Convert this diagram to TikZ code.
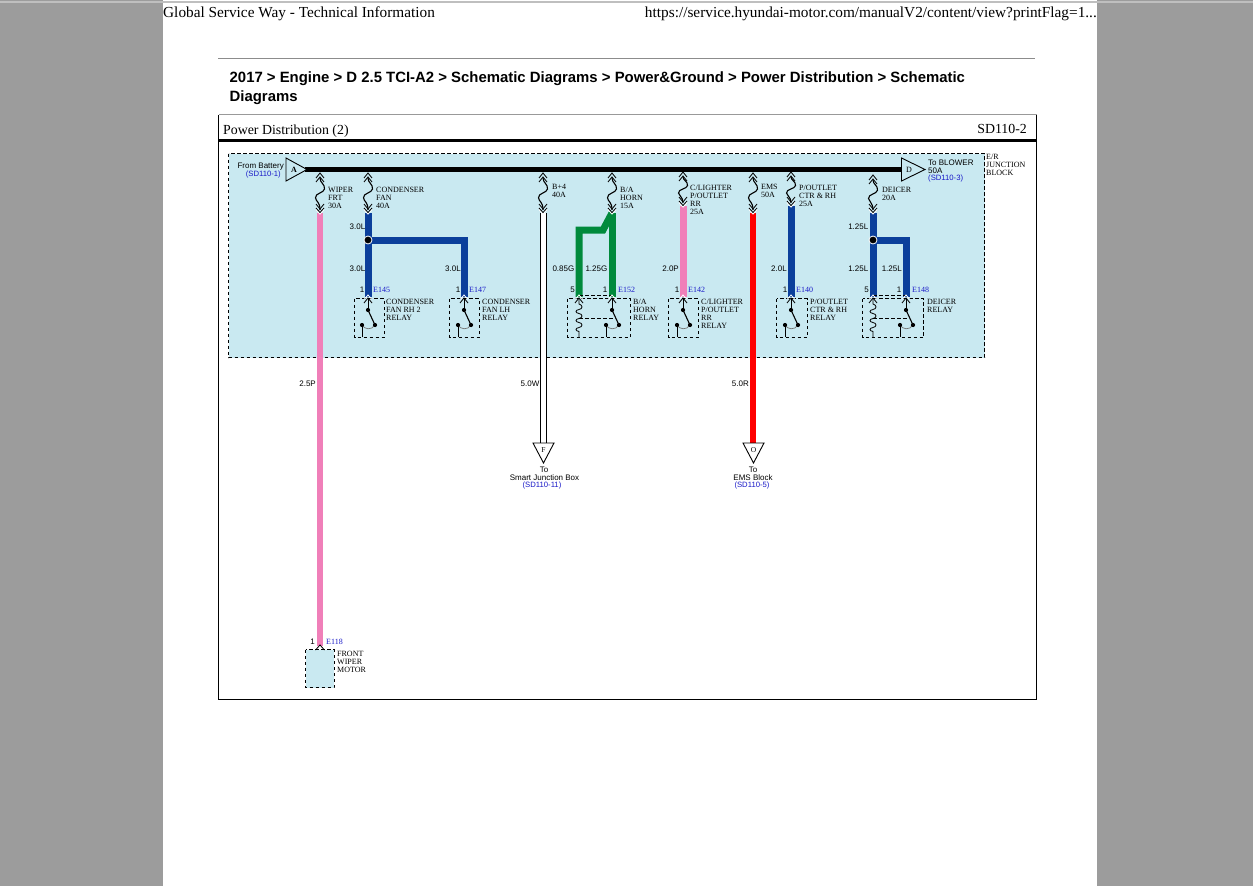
\documentclass[tikz,border=0pt]{standalone}
\usepackage{fontspec}
\setmainfont{Liberation Serif}
\newfontfamily\lsans{Liberation Sans}
\usetikzlibrary{calc}
\definecolor{pagegray}{HTML}{9C9C9C}
\definecolor{jbox}{HTML}{C9E9F1}
\definecolor{wblue}{HTML}{0B3F9B}
\definecolor{wgreen}{HTML}{008A3C}
\definecolor{wpink}{HTML}{F07FB9}
\definecolor{wred}{HTML}{FF0000}
\definecolor{lblue}{HTML}{1A1AC8}
\tikzset{
  x=1pt,y=-1pt,
  wire/.style={line width=#1,line cap=butt,line join=miter},
  dashbox/.style={draw=black,line width=0.9pt,dash pattern=on 3.5pt off 2.5pt},
  srf/.style={inner sep=0pt,font=\fontsize{8}{8}\selectfont,align=left,text=black,anchor=north west,yshift=2.2pt},
  gauge/.style={inner sep=0pt,font=\lsans\fontsize{8}{8}\selectfont,text=black,anchor=east,yshift=-0.6pt},
  pinnum/.style={inner sep=0pt,font=\lsans\fontsize{8}{8}\selectfont,text=black,yshift=-0.4pt},
  pinid/.style={inner sep=0pt,font=\fontsize{8}{8}\selectfont,text=lblue,anchor=west,yshift=-0.4pt},
  snt/.style={inner sep=0pt,font=\lsans\fontsize{8}{8}\selectfont,text=black,yshift=-0.4pt},
  ref/.style={inner sep=0pt,font=\lsans\fontsize{7.7}{8}\selectfont,text=lblue,yshift=-0.4pt},
  tri/.style={draw=black,line width=0.9pt,fill=jbox,line join=miter},
  sym/.style={draw=black,line width=0.8pt},
  dotn/.style={circle,fill=black,inner sep=0pt,minimum size=4.2pt},
}
% fuse: name, x, top y, bottom y
\newcommand{\fusesym}[4]{%
  \coordinate (#1top) at (#2,#3);
  \coordinate (#1end) at (#2,#4);
  \draw[sym] (#2-4,#3+5)--(#2,#3)--(#2+4,#3+5);
  \draw[sym] (#2-4,#3+9)--(#2,#3+4)--(#2+4,#3+9);
  \draw[sym,line width=1.1pt] (#2,#3+5)
     .. controls ({#2},{#3+(#4-#3)*0.25}) and ({#2+5},{#3+(#4-#3)*0.27}) .. ({#2+4.5},{#3+(#4-#3)*0.4})
     .. controls ({#2+4},{#3+(#4-#3)*0.5}) and ({#2-5},{#3+(#4-#3)*0.5}) .. ({#2-4.5},{#3+(#4-#3)*0.62})
     .. controls ({#2-4},{#3+(#4-#3)*0.72}) and ({#2},{#3+(#4-#3)*0.72}) .. (#2,#4-3);
  \draw[sym] (#2-4,#4-9)--(#2,#4-4)--(#2+4,#4-9);
  \draw[draw=white,line width=1pt] (#2-4,#4-3.5)--(#2,#4+1)--(#2+4,#4-3.5);
  \draw[sym] (#2-4,#4-5)--(#2,#4-0.5)--(#2+4,#4-5);
}
% pin arrow at relay
\newcommand{\pinup}[2]{%
  \draw[sym] (#1-4,#2+5)--(#1,#2)--(#1+4,#2+5);
  \draw[draw=white,line width=0.8pt] (#1-3.5,#2+1)--(#1,#2-3)--(#1+3.5,#2+1);
}
% switch contact: x of movable contact, y fixed
\newcommand{\contact}[2]{% x, bottom y
  \pinup{#1}{298}
  \draw[sym] (#1,298)--(#1,310);
  \draw[black,line width=1.1pt] (#1,310)--(#1+7,325);
  \draw[black!55,line width=0.7pt] (#1-6,325) .. controls (#1-4,329.5) and (#1+4,330.5) .. (#1+7,325);
  \node[dotn] (#1dotA) at (#1,310) {};
  \node[dotn] (#1dotB) at (#1+7,325) {};
  \node[dotn] (#1dotC) at (#1-6,325) {};
  \draw[sym,line width=1pt] (#1dotC.center)--(#1-6,#2);
}
\newcommand{\coilsym}[1]{%
  \pinup{#1}{298}
  \draw[sym] (#1,298)--(#1,304)
   .. controls (#1+4,305) and (#1+4,309) .. (#1,309.5)
   .. controls (#1-4,310) and (#1-4,313) .. (#1,313.5)
   .. controls (#1+4,314) and (#1+4,318) .. (#1,318.5)
   .. controls (#1-4,319) and (#1-4,322) .. (#1,322.5)
   .. controls (#1+4,323) and (#1+4,327) .. (#1,327.5)
   .. controls (#1-4,328) and (#1-4,331) .. (#1,331.5)
   -- (#1,337);
}
\begin{document}
\begin{tikzpicture}
\useasboundingbox (0,0) rectangle (1253,886);
% page
\fill[pagegray] (0,0) rectangle (1253,886);
\fill[white] (163,0) rectangle (1097,886);
\draw[black!25,line width=1.2pt] (0,2)--(1253,2);
\node[inner sep=0pt,anchor=base west,font=\fontsize{15.3}{16}\selectfont] (hdrL) at (163,17) {Global Service Way - Technical Information};
\node[inner sep=0pt,anchor=base east,font=\fontsize{15.3}{16}\selectfont] (hdrR) at (1097,17) {https://service.hyundai-motor.com/manualV2/content/view?printFlag=1...};
\draw[black!45,line width=1pt] (218,58)--(1035,58);
\node[inner sep=0pt,anchor=base west,font=\lsans\bfseries\fontsize{14.9}{15}\selectfont] (crumbA) at (229.5,82) {2017 > Engine > D 2.5 TCI-A2 > Schematic Diagrams > Power\&Ground > Power Distribution > Schematic};
\node[inner sep=0pt,anchor=base west,font=\lsans\bfseries\fontsize{14.9}{15}\selectfont] (crumbB) at (229.5,101) {Diagrams};
% frame
\draw[black!40,line width=1pt] (218.5,114.5)--(1036.5,114.5);
\draw[black,line width=1pt] (218.5,115)--(218.5,699.5)--(1036.5,699.5)--(1036.5,115);
\draw[black,line width=3.2pt] (218.5,140.5)--(1036.5,140.5);
\node[inner sep=0pt,anchor=base west,font=\fontsize{13.85}{14}\selectfont] (title) at (223,134) {Power Distribution (2)};
\node[inner sep=0pt,anchor=base east,font=\fontsize{13.85}{14}\selectfont] (code) at (1027,133) {SD110-2};
% junction block
\draw[dashbox,fill=jbox] (228.5,153.5) rectangle (984.5,357.5);
\node[srf] (erjb) at (986,156) {E/R\\JUNCTION\\BLOCK};
% coordinates of pins
\coordinate (pE145) at (368,297);
\coordinate (pE147) at (464,297);
\coordinate (pE152a) at (579,297);
\coordinate (pE152b) at (612,297);
\coordinate (pE142) at (683,297);
\coordinate (pE140) at (791,297);
\coordinate (pE148a) at (873,297);
\coordinate (pE148b) at (906,297);
\coordinate (pE118) at (320,646);
\coordinate (pF) at (543,444);
\coordinate (pO) at (753,444);
\coordinate (j1) at (368,240);
\coordinate (j2) at (873,240);
\coordinate (jA) at (464,240);
\coordinate (jB) at (906,240);
\coordinate (gA) at (579,230);
\coordinate (gB) at (603,230);
\coordinate (fwip) at (320,213);
\coordinate (fcon) at (368,213);
\coordinate (fb4) at (543,213);
\coordinate (fba) at (612,213);
\coordinate (fcl) at (683,206);
\coordinate (fems) at (753,213);
\coordinate (fpo) at (791,206);
\coordinate (fde) at (873,213);
% wires
\draw[wire=6.5pt,wpink] (fwip)--(pE118);
\draw[wire=7pt,wblue] (fcon)--(pE145);
\draw[wire=7pt,wblue] (j1)--(jA)--(pE147);
\draw[wire=7pt,wgreen] (fba)--(pE152b);
\draw[wire=7pt,wgreen] (pE152a)--(gA)--(gB)--(fba);
\draw[wire=7pt,wpink] (fcl)--(pE142);
\draw[wire=6.5pt,wred] (fems)--(pO);
\draw[wire=7pt,wblue] (fpo)--(pE140);
\draw[wire=7pt,wblue] (fde)--(pE148a);
\draw[wire=7pt,wblue] (j2)--(jB)--(pE148b);
\draw[wire=7pt,black] (fb4)--(pF);
\draw[wire=5pt,white] (fb4)--(pF);
% junction dots
\node[circle,fill=black,draw=white,line width=0.8pt,inner sep=0pt,minimum size=8pt] (dotj1) at (j1) {};
\node[circle,fill=black,draw=white,line width=0.8pt,inner sep=0pt,minimum size=8pt] (dotj2) at (j2) {};
% bus
\coordinate (busL) at (305,169.5);
\coordinate (busR) at (903,169.5);
\draw[wire=5pt,black] (busL)--(busR);
\draw[tri] (286,158)--(307,169.5)--(286,181)--cycle;
\draw[tri] (901.5,158)--(925,169.5)--(901.5,181)--cycle;
\node[inner sep=0pt,font=\fontsize{8}{8}\selectfont\bfseries] (letA) at (294,170) {A};
\node[inner sep=0pt,font=\fontsize{8}{8}\selectfont] (letD) at (909,170) {D};
\node[snt,anchor=east] (fromB) at (284,166) {From Battery};
\node[ref,anchor=east] (fromR) at (281,174.5) {(SD110-1)};
\node[snt,anchor=west] (toBl) at (928,162) {To BLOWER};
\node[snt,anchor=west] (toBa) at (928,170) {50A};
\node[ref,anchor=west] (toBr) at (928,178.5) {(SD110-3)};
% fuses
\fusesym{fa}{320}{173}{213}
\fusesym{fb}{368}{173}{213}
\fusesym{fc}{543}{173}{213}
\fusesym{fd}{612}{173}{213}
\fusesym{fe}{683}{172}{206}
\fusesym{ff}{753}{173}{213}
\fusesym{fg}{791}{172}{206}
\fusesym{fh}{873}{175}{213}
\node[srf] (lwip) at (328,189) {WIPER\\FRT\\30A};
\node[srf] (lcon) at (376,189) {CONDENSER\\FAN\\40A};
\node[srf] (lb4) at (552,186) {B+4\\40A};
\node[srf] (lba) at (620,189) {B/A\\HORN\\15A};
\node[srf] (lcl) at (690,187) {C/LIGHTER\\P/OUTLET\\RR\\25A};
\node[srf] (lems) at (761,186) {EMS\\50A};
\node[srf] (lpo) at (799,187) {P/OUTLET\\CTR \& RH\\25A};
\node[srf] (lde) at (882,189) {DEICER\\20A};
% gauges
\node[gauge] (g1) at (365.5,226) {3.0L};
\node[gauge] (g2) at (365.5,268) {3.0L};
\node[gauge] (g3) at (461,268) {3.0L};
\node[gauge] (g4) at (316,383) {2.5P};
\node[gauge] (g5) at (539.5,383) {5.0W};
\node[gauge] (g6) at (749,383) {5.0R};
\node[gauge] (g7) at (574.5,268) {0.85G};
\node[gauge] (g8) at (607.5,268) {1.25G};
\node[gauge] (g9) at (679,268) {2.0P};
\node[gauge] (g10) at (787,268) {2.0L};
\node[gauge] (g11) at (868.5,226) {1.25L};
\node[gauge] (g12) at (868.5,268) {1.25L};
\node[gauge] (g13) at (902,268) {1.25L};
% pins
\node[pinnum] (n1) at (362,289) {1};\node[pinid] (i1) at (373,289) {E145};
\node[pinnum] (n2) at (458,289) {1};\node[pinid] (i2) at (469,289) {E147};
\node[pinnum] (n3) at (572.5,289) {5};\node[pinnum] (n4) at (605,289) {1};\node[pinid] (i3) at (618,289) {E152};
\node[pinnum] (n5) at (677,289) {1};\node[pinid] (i4) at (688,289) {E142};
\node[pinnum] (n6) at (785,289) {1};\node[pinid] (i5) at (796,289) {E140};
\node[pinnum] (n7) at (866.5,289) {5};\node[pinnum] (n8) at (899,289) {1};\node[pinid] (i6) at (912,289) {E148};
\node[pinnum] (n9) at (312.5,641) {1};\node[pinid] (i7) at (326,641) {E118};
% relays
\draw[dashbox] (354.5,298.5) rectangle (384,337.5);
\contact{368}{337}
\node[srf] (r1) at (386,301) {CONDENSER\\FAN RH 2\\RELAY};
\draw[dashbox] (449.5,298.5) rectangle (479,337.5);
\contact{464}{337}
\node[srf] (r2) at (482,301) {CONDENSER\\FAN LH\\RELAY};
\draw[dashbox] (567.5,298.5) rectangle (630,337.5);
\draw[dashbox] (579,295)--(612,295);
\coilsym{579}
\contact{612}{337}
\draw[dashbox] (579,318.5)--(615,318.5);
\node[srf] (r3) at (633,301) {B/A\\HORN\\RELAY};
\draw[dashbox] (668.5,298.5) rectangle (698,337.5);
\contact{683}{337}
\node[srf] (r4) at (701,301) {C/LIGHTER\\P/OUTLET\\RR\\RELAY};
\draw[dashbox] (776.5,298.5) rectangle (807,337.5);
\contact{791}{337}
\node[srf] (r5) at (810,301) {P/OUTLET\\CTR \& RH\\RELAY};
\draw[dashbox] (862.5,298.5) rectangle (923.5,337.5);
\draw[dashbox] (873,295)--(906,295);
\coilsym{873}
\contact{906}{337}
\draw[dashbox] (873,318.5)--(909,318.5);
\node[srf] (r6) at (927,301) {DEICER\\RELAY};
% off-page triangles
\draw[tri,fill=white] (533,443)--(554,443)--(543.5,463)--cycle;
\draw[tri,fill=white] (743,443)--(764,443)--(753.5,463)--cycle;
\node[inner sep=0pt,font=\fontsize{7.5}{8}\selectfont] (letF) at (543.5,450) {F};
\node[inner sep=0pt,font=\fontsize{7.5}{8}\selectfont] (letO) at (753.5,450) {O};
\node[snt] (to1) at (544,469.5) {To};
\node[snt] (to1b) at (544.5,477.5) {Smart Junction Box};
\node[ref] (to1c) at (542,485) {(SD110-11)};
\node[snt] (to2) at (753,469.5) {To};
\node[snt] (to2b) at (753,477.5) {EMS Block};
\node[ref] (to2c) at (752,485) {(SD110-5)};
% motor
\draw[dashbox,fill=jbox] (305.5,649.5) rectangle (334,687.5);
\draw[sym] (315.5,650)--(320,645)--(324.5,650);
\node[srf] (mot) at (337,653) {FRONT\\WIPER\\MOTOR};
\end{tikzpicture}
\end{document}
